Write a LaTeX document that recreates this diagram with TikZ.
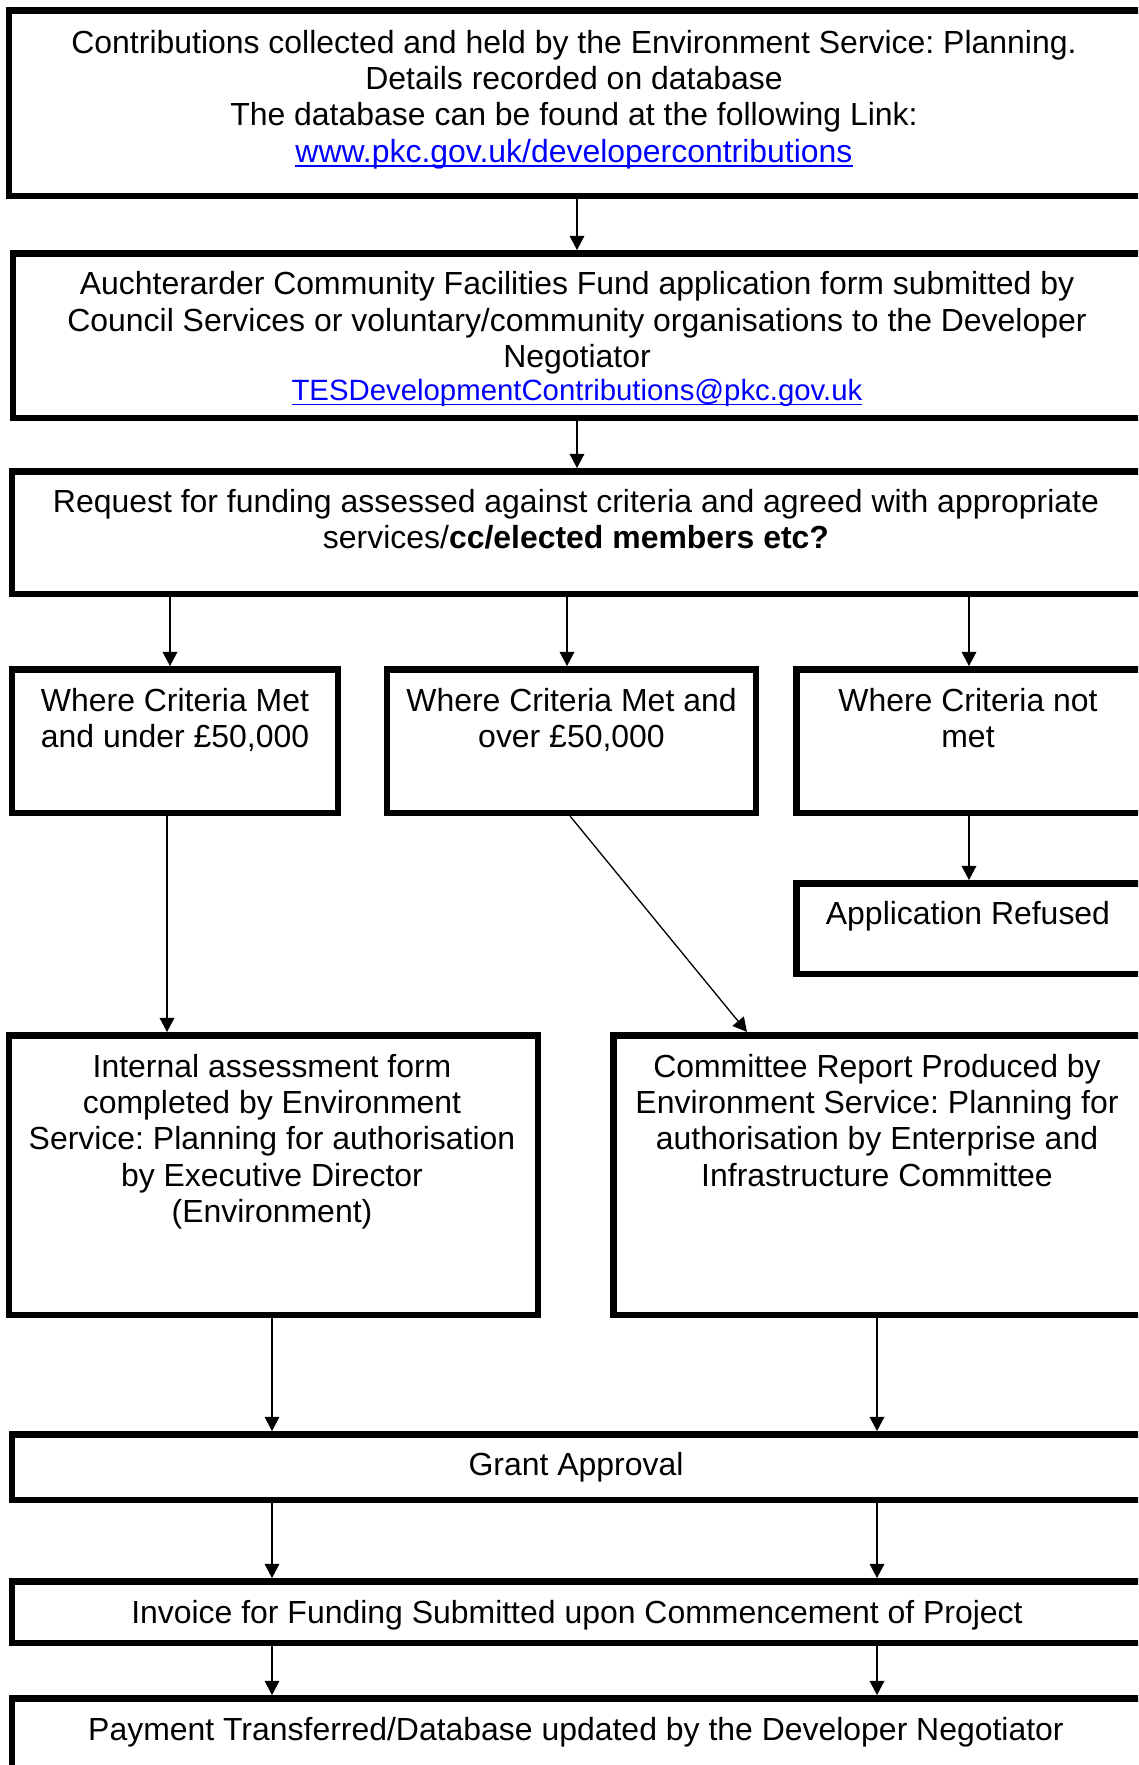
\documentclass[tikz,border=0pt]{standalone}
\usepackage{fontspec}
\setmainfont{Liberation Sans}
\usetikzlibrary{arrows.meta}
\frenchspacing
\definecolor{linkblue}{RGB}{0,0,255}
\newcommand{\mybox}[5]{\node[box, minimum width={(#4-#2-6.5)*0.385pt}, minimum height={(#5-#3-6.5)*0.385pt}] (#1) at ({(#2+#4)/2},{(#3+#5)/2}) {};}
\newcommand{\lnk}[1]{\textcolor{linkblue}{\sbox0{#1}\rlap{\rule[-1.8pt]{\wd0}{0.8pt}}\usebox0}}
\newcommand{\lnkthin}[1]{\textcolor{linkblue}{\sbox0{#1}\rlap{\rule[-1.6pt]{\wd0}{0.5pt}}\usebox0}}
\begin{document}
\begin{tikzpicture}[x=0.385pt,y=-0.385pt,
  box/.style={draw, line width=2.5pt, fill=white, inner sep=0pt, rectangle},
  txt/.style={inner sep=0pt, outer sep=0pt, align=center, anchor=north, font=\fontsize{12.3}{14}\selectfont},
  arr/.style={line width=0.5pt, -{Triangle[length=5.4pt,width=5.6pt]}},
  ln/.style={line width=0.5pt}]
\useasboundingbox (0,0) rectangle (1138,1765);
\fill[white] (0,0) rectangle (1138,1765);
\clip (0,0) rectangle (1138,1765);

% column coordinates
\coordinate (cMid) at (577,0);
\coordinate (cA) at (170,0);
\coordinate (cB) at (567,0);
\coordinate (cC) at (969,0);
\coordinate (cAd) at (167,0);
\coordinate (cBd) at (570,0);
\coordinate (cEin) at (747,0);
\coordinate (cL) at (272,0);
\coordinate (cR) at (877,0);

% boxes
\mybox{b1}{6}{7}{1146}{199}
\mybox{b2}{10}{250}{1146}{421}
\mybox{b3}{9}{468}{1146}{597}
\mybox{bA}{9}{666}{341}{816}
\mybox{bB}{384}{666}{759}{816}
\mybox{bC}{793}{666}{1146}{816}
\mybox{bR}{793}{880}{1146}{977}
\mybox{bD}{6}{1032}{541}{1318}
\mybox{bE}{610}{1032}{1146}{1318}
\mybox{bG}{9}{1431}{1146}{1503}
\mybox{bI}{9}{1578}{1146}{1646}
\mybox{bP}{9}{1695}{1146}{1790}

% texts
\node[txt] (t1) at (574,27.7) {\strut Contributions collected and held by the Environment Service: Planning.\\
Details recorded on database\\
The database can be found at the following Link:\\
\lnk{www.pkc.gov.uk/developercontributions}};
\node[txt] (t2) at (577,269.3) {\strut Auchterarder Community Facilities Fund application form submitted by\\
Council Services or voluntary/community organisations to the Developer\\
Negotiator\\[-1.2pt]
{\fontsize{11.3}{13}\selectfont\lnkthin{TESDevelopmentContributions@pkc.gov.uk}}};
\node[txt] (t3) at (576,486.7) {\strut Request for funding assessed against criteria and agreed with appropriate\\
services/\textbf{cc/elected members etc?}};
\node[txt] (tA) at (175,685.7) {\strut Where Criteria Met\\and under £50,000};
\node[txt] (tB) at (571.5,685.7) {\strut Where Criteria Met and\\over £50,000};
\node[txt] (tC) at (968,685.7) {\strut Where Criteria not\\met};
\node[txt] (tR) at (968,898.7) {\strut Application Refused};
\node[txt] (tD) at (272,1051.7) {\strut Internal assessment form\\
completed by Environment\\
Service: Planning for authorisation\\
by Executive Director\\
(Environment)};
\node[txt] (tE) at (877,1051.7) {\strut Committee Report Produced by\\
Environment Service: Planning for\\
authorisation by Enterprise and\\
Infrastructure Committee};
\node[txt] (tG) at (576,1449.7) {\strut Grant Approval};
\node[txt] (tI) at (577,1597.7) {\strut Invoice for Funding Submitted upon Commencement of Project};
\node[txt] (tP) at (576,1714.7) {\strut Payment Transferred/Database updated by the Developer Negotiator};

% connectors
\draw[arr] (b1.south -| cMid) -- (b2.north -| cMid);
\draw[arr] (b2.south -| cMid) -- (b3.north -| cMid);
\draw[arr] (b3.south -| cA) -- (bA.north -| cA);
\draw[arr] (b3.south -| cB) -- (bB.north -| cB);
\draw[arr] (b3.south -| cC) -- (bC.north -| cC);
\draw[arr] (bC.south -| cC) -- (bR.north -| cC);
\draw[arr] (bA.south -| cAd) -- (bD.north -| cAd);
\draw[arr] (bB.south -| cBd) -- (bE.north -| cEin);
\draw[arr] (bD.south -| cL) -- (bG.north -| cL);
\draw[arr] (bE.south -| cR) -- (bG.north -| cR);
\draw[arr] (bG.south -| cL) -- (bI.north -| cL);
\draw[arr] (bG.south -| cR) -- (bI.north -| cR);
\draw[arr] (bI.south -| cL) -- (bP.north -| cL);
\draw[arr] (bI.south -| cR) -- (bP.north -| cR);
\end{tikzpicture}
\end{document}
